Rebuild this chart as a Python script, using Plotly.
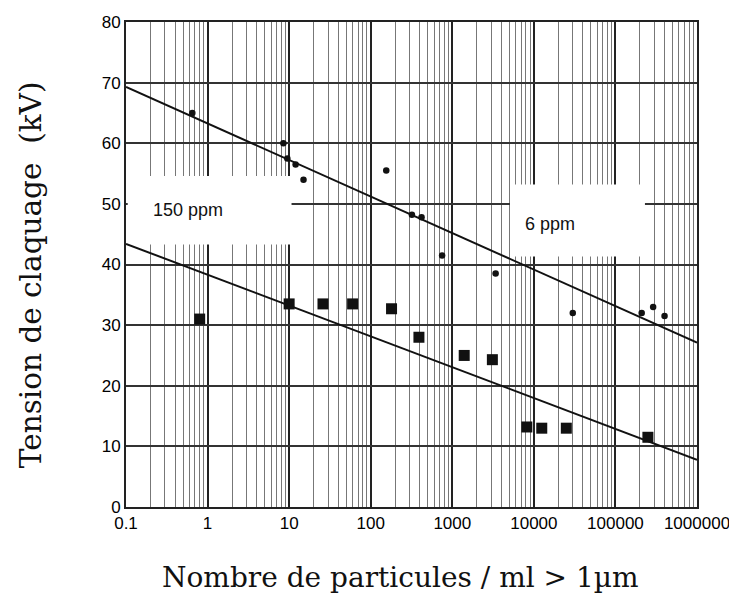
import plotly.graph_objects as go

# 6 ppm series (small dots)
x_6ppm = [0.65, 8.5, 9.5, 12, 15, 155, 320, 420, 750, 3400, 30000, 210000, 290000, 400000]
y_6ppm = [65, 60, 57.5, 56.5, 54, 55.5, 48.2, 47.8, 41.5, 38.5, 32, 32, 33, 31.5]

# 150 ppm series (squares)
x_150ppm = [0.8, 10, 26, 60, 180, 390, 1400, 3100, 8200, 12500, 25000, 250000]
y_150ppm = [31, 33.5, 33.5, 33.5, 32.7, 28, 25, 24.3, 13.2, 13, 13, 11.5]

# fitted lines (end points)
x_fit = [0.1, 1000000]
y_fit_6ppm = [69.3, 27.1]
y_fit_150ppm = [43.4, 7.8]

x_tickvals = [0.1, 1, 10, 100, 1000, 10000, 100000, 1000000]
x_ticktext = ["0.1", "1", "10", "100", "1000", "10000", "100000", "1000000"]
y_tickvals = [0, 10, 20, 30, 40, 50, 60, 70, 80]

fig = go.Figure()
fig.add_trace(go.Scatter(x=x_fit, y=y_fit_6ppm, mode="lines",
                         line=dict(color="#111", width=2), showlegend=False))
fig.add_trace(go.Scatter(x=x_fit, y=y_fit_150ppm, mode="lines",
                         line=dict(color="#111", width=2), showlegend=False))
fig.add_trace(go.Scatter(x=x_6ppm, y=y_6ppm, mode="markers",
                         marker=dict(symbol="circle", size=6.5, color="#111"),
                         showlegend=False))
fig.add_trace(go.Scatter(x=x_150ppm, y=y_150ppm, mode="markers",
                         marker=dict(symbol="square", size=11, color="#111"),
                         showlegend=False))

# white label boxes covering the grid
fig.add_shape(type="rect", xref="x", yref="y", x0=0.105, x1=10.7, y0=43.3, y1=54.6,
              fillcolor="white", line=dict(width=0), layer="between")
fig.add_shape(type="rect", xref="x", yref="y", x0=5100, x1=230000, y0=41.3, y1=53.2,
              fillcolor="white", line=dict(width=0), layer="between")

label_font = dict(family="Liberation Sans, Arial", size=18, color="#111")
fig.add_annotation(x=-0.24, y=49.0, xref="x", yref="y", text="150 ppm", showarrow=False,
                   font=label_font)
fig.add_annotation(x=4.2, y=46.7, xref="x", yref="y", text="6 ppm", showarrow=False,
                   font=label_font)

# axis titles
title_font_x = dict(family="DejaVu Serif, Liberation Serif", size=28, color="#111")
title_font_y = dict(family="DejaVu Serif, Liberation Serif", size=29.5, color="#111")
fig.add_annotation(x=0.48, y=0, xref="paper", yref="paper", yanchor="middle",
                   yshift=-70, text="Nombre de particules / ml > 1\u00b5m",
                   showarrow=False, font=title_font_x)
fig.add_annotation(x=0, y=0.478, xref="paper", yref="paper", xanchor="center",
                   xshift=-95, textangle=-90, text="Tension de claquage  (kV)",
                   showarrow=False, font=title_font_y)

tick_font = dict(family="Liberation Sans, Arial", size=17, color="#000")
fig.update_xaxes(type="log", range=[-1, 6], tickvals=x_tickvals, ticktext=x_ticktext,
                 showgrid=True, gridcolor="#222", gridwidth=1.5,
                 minor=dict(dtick="D1", showgrid=True, gridcolor="#777", gridwidth=1, ticks=""),
                 showline=True, linecolor="#222", linewidth=2, mirror=True,
                 ticks="", zeroline=False, automargin=False,
                 tickfont=tick_font)
fig.update_yaxes(range=[0, 80], tickvals=y_tickvals,
                 showgrid=True, gridcolor="#333", gridwidth=1.5,
                 showline=True, linecolor="#222", linewidth=2, mirror=True,
                 ticks="", zeroline=False, automargin=False,
                 tickfont=tick_font)

# the page body adds an 8 px offset, so the figure is sized to fit the 737x604 window
fig.update_layout(width=729, height=596, plot_bgcolor="white", paper_bgcolor="white",
                  margin=dict(l=118, r=40, t=14, b=97))

fig.write_html("out.html")
